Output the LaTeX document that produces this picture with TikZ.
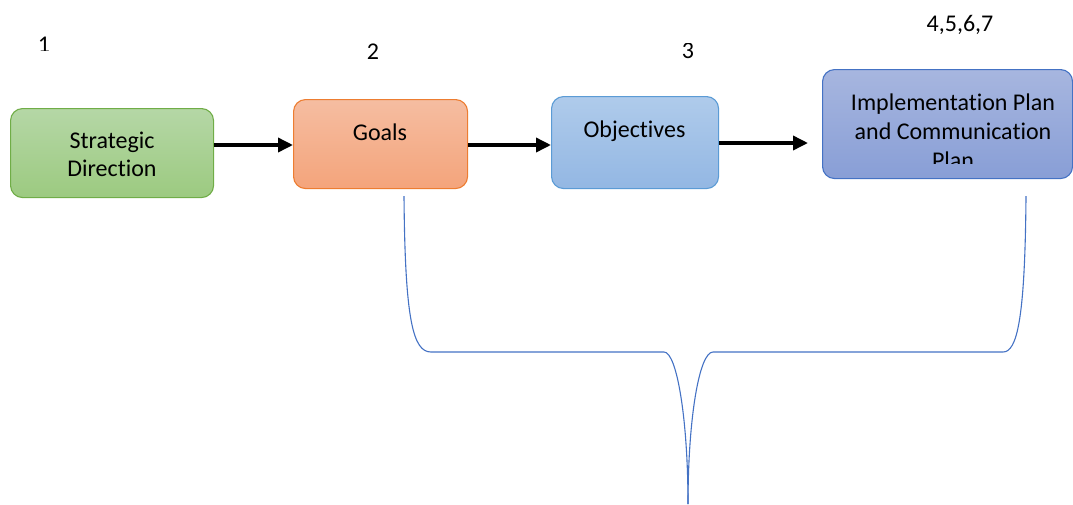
\documentclass[tikz,border=0pt]{standalone}
\usepackage{fontspec}
\setmainfont{Carlito}[Ligatures=NoCommon]
\usetikzlibrary{arrows.meta}
\definecolor{grTop}{HTML}{B5D7A6}
\definecolor{grBot}{HTML}{9CCA80}
\definecolor{grLine}{HTML}{70AD47}
\definecolor{orTop}{HTML}{F5BDA1}
\definecolor{orBot}{HTML}{F4A47B}
\definecolor{orLine}{HTML}{ED7D31}
\definecolor{blTop}{HTML}{AFCBEB}
\definecolor{blBot}{HTML}{93B7E3}
\definecolor{blLine}{HTML}{5B9BD5}
\definecolor{inTop}{HTML}{A7B6DF}
\definecolor{inBot}{HTML}{889ED6}
\definecolor{inLine}{HTML}{4472C4}
\definecolor{braceCol}{HTML}{4472C4}
\begin{document}
\begin{tikzpicture}[x=1pt,y=-1pt,
  box/.style={draw, line width=1.1pt, rounded corners=12pt, inner sep=0pt, anchor=north west},
  lbl/.style={font=\fontsize{24}{28}\selectfont, inner sep=0pt, align=center},
  flow/.style={line width=3.5pt, -{Triangle[length=15pt,width=14pt]}},
  bracecurve/.style={draw=braceCol, line width=1.1pt}]
\useasboundingbox (0,0) rectangle (1073,504);

% boxes
\node[box, draw=grLine, top color=grTop, bottom color=grBot, minimum width=203pt, minimum height=89pt] (sd) at (10,108) {};
\node[box, draw=orLine, top color=orTop, bottom color=orBot, minimum width=174pt, minimum height=89pt] (goals) at (293,99) {};
\node[box, draw=blLine, top color=blTop, bottom color=blBot, minimum width=167pt, minimum height=92pt] (obj) at (551,96) {};
\node[box, draw=inLine, top color=inTop, bottom color=inBot, minimum width=250pt, minimum height=109pt] (impl) at (822,69) {};

% box texts
\node[lbl] (sdT) at (112,154) {Strategic\\Direction};
\node[lbl] (goalsT) at (380,132) {Goals};
\node[lbl] (objT) at (634.5,131) {Objectives};
\begin{scope}
  \clip (822,60) rectangle (1073,163);
  \node[lbl, font=\fontsize{24}{29}\selectfont] (implT) at (953,131) {Implementation Plan\\and Communication\\Plan};
\end{scope}

% number labels
\begin{scope}
  \clip (20,30) rectangle (70,50.5);
  \node[lbl] (n1) at (44,44.5) {1};
\end{scope}
\node[lbl] (n2) at (373,52) {2};
\begin{scope}
  \clip (670,43) rectangle (710,58);
  \node[lbl] (n3) at (688,51) {3};
\end{scope}
\node[lbl] (n4) at (960,25) {4,5,6,7};

% arrows
\draw[flow] (sd.east |- 0,145) -- (goals.west |- 0,145);
\draw[flow] (goals.east |- 0,145) -- (obj.west |- 0,145);
\draw[flow] (obj.east |- 0,143) -- ([xshift=-14pt]impl.west |- 0,143);

% brace
\coordinate (bl) at (404,196);
\coordinate (br) at (1026,196);
\coordinate (tip) at (688,504);
\draw[bracecurve] (bl) .. controls (405,320) and (413,352) .. (431,352)
  -- (664,352) .. controls (677,352) and (688,420) .. (tip);
\draw[bracecurve] (br) .. controls (1025,320) and (1017,352) .. (1003,352)
  -- (713,352) .. controls (699,352) and (688,420) .. (tip);
\end{tikzpicture}
\end{document}
